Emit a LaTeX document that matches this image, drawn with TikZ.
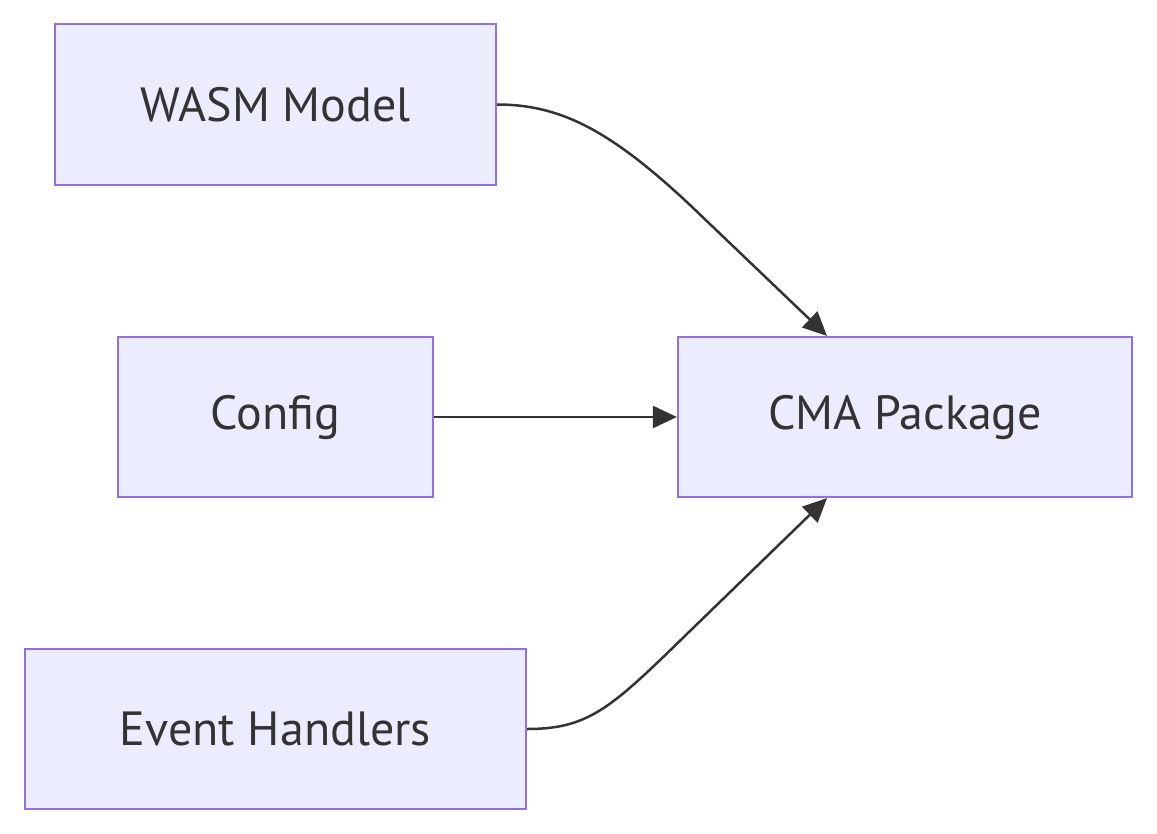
\documentclass[tikz,border=0pt]{standalone}
\usepackage{fontspec}
\setmainfont{PT Sans}
\usetikzlibrary{arrows.meta}
\definecolor{boxfill}{HTML}{ECECFF}
\definecolor{boxline}{HTML}{9370DB}
\definecolor{ink}{HTML}{333333}
\begin{document}
\begin{tikzpicture}[x=1pt,y=-1pt,
  box/.style={draw=boxline,fill=boxfill,line width=2.2pt,inner sep=0pt,
    text=ink,font=\fontsize{48}{54}\selectfont},
  edge/.style={draw=ink,line width=2.5pt,-{Triangle[length=24pt,width=22pt]}}]
\useasboundingbox (0,0) rectangle (1157,834);
\node[box,minimum width=441pt,minimum height=161pt] (wasm) at (275.5,104.5) {WASM Model};
\node[box,minimum width=315pt,minimum height=160pt] (config) at (275.5,417) {Config};
\node[box,minimum width=501pt,minimum height=160pt] (event) at (275.5,729) {Event Handlers};
\node[box,minimum width=454pt,minimum height=160pt] (cma) at (905,417) {CMA Package};
\draw[edge] (wasm.east) .. controls (560,104.5) and (610,130) .. (690,205) -- ([xshift=-78pt]cma.north);
\draw[edge] (config.east) -- (cma.west);
\draw[edge] (event.east) .. controls (590,729) and (612,707) .. (690,631) -- ([xshift=-78pt]cma.south);
\end{tikzpicture}
\end{document}
